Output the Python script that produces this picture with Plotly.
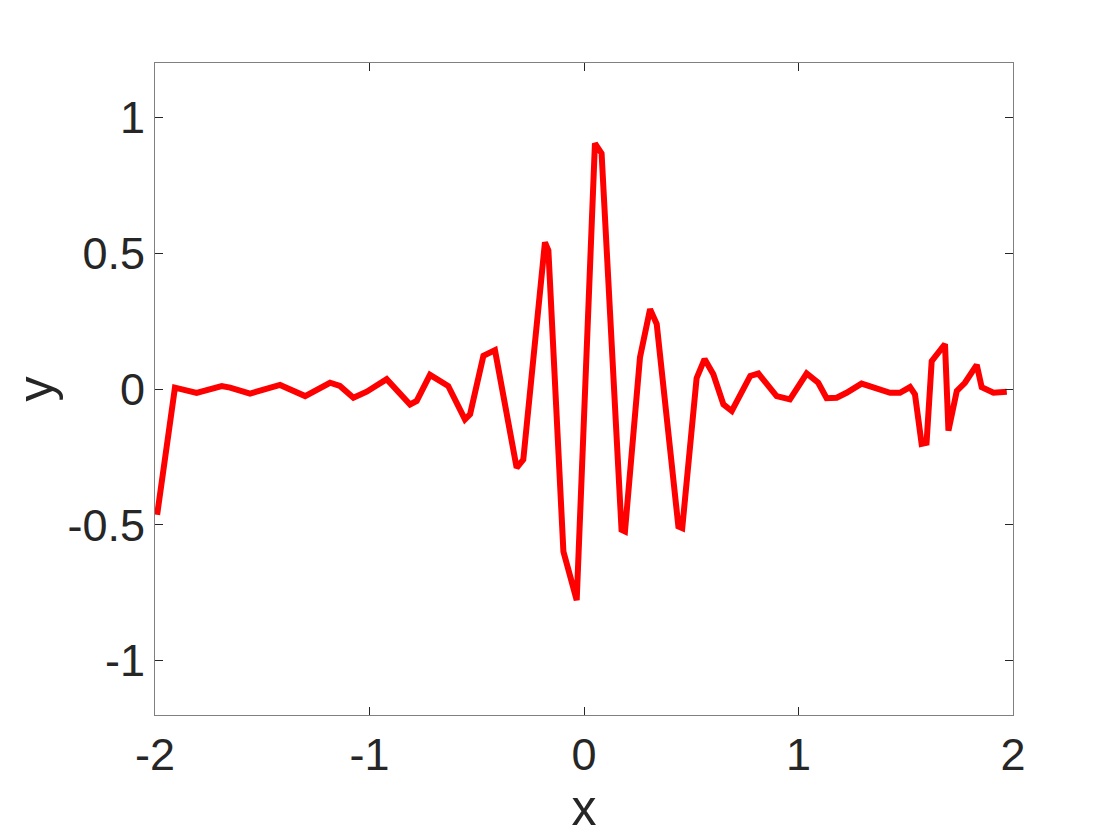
import plotly.graph_objects as go

# curve vertices
x_vals = [-1.99, -1.907, -1.806, -1.689, -1.65, -1.557, -1.417, -1.30, -1.184, -1.138,
          -1.075, -1.013, -0.920, -0.811, -0.78, -0.718, -0.633, -0.555, -0.531, -0.469,
          -0.415, -0.314, -0.283, -0.182, -0.166, -0.096, -0.034, 0.051, 0.082, 0.175,
          0.191, 0.261, 0.308, 0.339, 0.440, 0.458, 0.525, 0.562, 0.603, 0.650,
          0.689, 0.775, 0.813, 0.898, 0.960, 1.038, 1.092, 1.131, 1.178, 1.224,
          1.294, 1.380, 1.427, 1.473, 1.520, 1.543, 1.574, 1.597, 1.621, 1.683,
          1.699, 1.738, 1.776, 1.831, 1.854, 1.909, 1.971]
y_vals = [-0.463, 0.005, -0.014, 0.011, 0.005, -0.017, 0.015, -0.026, 0.023, 0.011,
          -0.032, -0.01, 0.036, -0.057, -0.044, 0.052, 0.011, -0.112, -0.093, 0.122,
          0.143, -0.29, -0.26, 0.54, 0.51, -0.598, -0.777, 0.904, 0.867, -0.518,
          -0.524, 0.116, 0.294, 0.239, -0.506, -0.512, 0.04, 0.11, 0.054, -0.057,
          -0.081, 0.048, 0.057, -0.026, -0.038, 0.057, 0.023, -0.034, -0.032, -0.014,
          0.02, -0.005, -0.014, -0.014, 0.007, -0.02, -0.202, -0.198, 0.103, 0.165,
          -0.153, -0.007, 0.023, 0.089, 0.007, -0.014, -0.01]

x_ticks = [-2, -1, 0, 1, 2]
y_ticks = [-1, -0.5, 0, 0.5, 1]

FONT = "Liberation Sans, Arial, sans-serif"

fig = go.Figure()
fig.add_trace(go.Scatter(
    x=x_vals, y=y_vals,
    mode='lines',
    line=dict(color='#ff0000', width=6),
    showlegend=False,
))

axis_style = dict(
    showline=True, linecolor='#808080', linewidth=1,
    mirror='ticks', ticks='inside', ticklen=8, tickcolor='#262626',
    showgrid=False, zeroline=False,
    tickfont=dict(family=FONT, size=45, color='#262626'),
)

# page body adds an 8px offset, margins compensate for it
fig.update_layout(
    width=1120, height=840,
    paper_bgcolor='white', plot_bgcolor='white',
    margin=dict(l=147, r=115, t=55, b=133),
    xaxis=dict(range=[-2, 2], tickvals=x_ticks, ticktext=[str(t) for t in x_ticks],
               title=dict(text='x', font=dict(family=FONT, size=50, color='#262626'),
                          standoff=2),
               **axis_style),
    yaxis=dict(range=[-1.2, 1.2], tickvals=y_ticks, ticktext=['-1', '-0.5', '0', '0.5', '1'],
               title=dict(text='y', font=dict(family=FONT, size=50, color='#262626'),
                          standoff=12),
               **axis_style),
)

fig.write_html("out.html")
